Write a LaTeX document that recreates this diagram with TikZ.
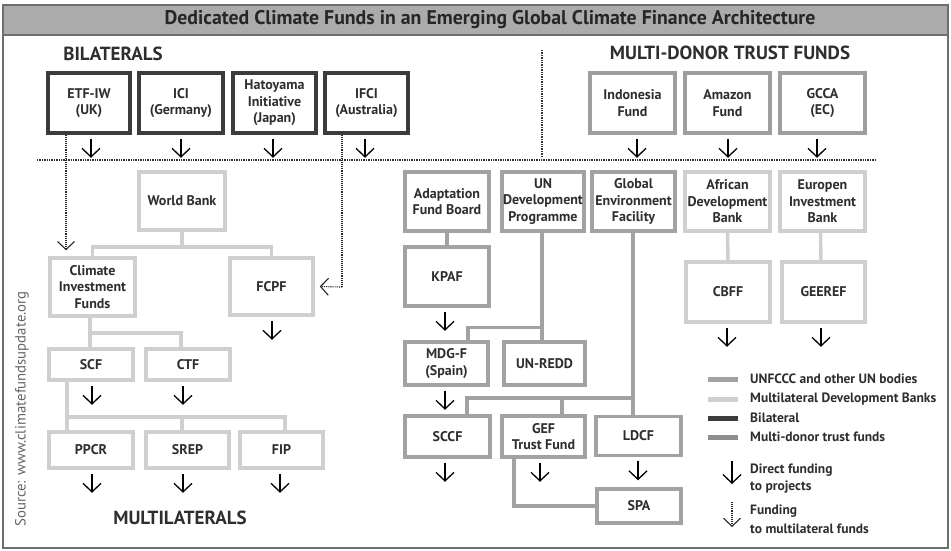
\documentclass[tikz,border=0pt]{standalone}
\usepackage{fontspec}
\setmainfont{PT Sans}
\usetikzlibrary{arrows.meta,backgrounds}
\definecolor{bilc}{HTML}{3C3C3C}
\definecolor{unc}{HTML}{A2A2A2}
\definecolor{mdbc}{HTML}{CFCFCF}
\definecolor{mdtc}{HTML}{9E9E9E}
\definecolor{txtc}{HTML}{2E2E2E}
\definecolor{framec}{HTML}{6E6E6E}
\definecolor{titlec}{HTML}{ABABAB}
\tikzset{
  boxbase/.style={rectangle, line width=3.5pt, fill=white, align=center, text=txtc,
     font=\fontsize{14}{16.5}\selectfont\bfseries, inner sep=1pt},
  bilbox/.style={boxbase, draw=bilc},
  unbox/.style={boxbase, draw=unc},
  mdbbox/.style={boxbase, draw=mdbc},
  mdtbox/.style={boxbase, draw=mdtc},
  unline/.style={draw=unc, line width=3.5pt},
  mdbline/.style={draw=mdbc, line width=3.5pt},
  proj/.style={draw=black, line width=1.3pt, -{Straight Barb[length=8.5pt,width=18pt,line width=1.3pt]}},
  fundline/.style={draw=black!85, line width=1.1pt, densely dotted},
  fundarrow/.style={fundline, -{Straight Barb[length=8pt,width=17pt,line width=1.1pt]}},
  sepline/.style={draw=black!80, line width=1.4pt, densely dotted},
  heading/.style={font=\fontsize{19}{21}\selectfont\bfseries, text=txtc},
  legtext/.style={anchor=west, font=\fontsize{13.5}{15}\selectfont\bfseries, text=txtc, inner sep=0pt, align=left},
}
\begin{document}
\begin{tikzpicture}[x=1pt,y=-1pt]
\useasboundingbox (0,0) rectangle (951,550);
\begin{pgfonlayer}{background}
\fill[white] (0,0) rectangle (951,550);
\end{pgfonlayer}
% frame and title
\draw[framec, line width=2pt, fill=titlec] (3,5) rectangle (948,35);
\draw[framec, line width=2pt] (3,5) rectangle (948,548);
\node[font=\fontsize{19.8}{22}\selectfont\bfseries, text=black!85] (title) at (490,20) {Dedicated Climate Funds in an Emerging Global Climate Finance Architecture};

% headings
\node[heading] (hbil) at (113,54) {BILATERALS};
\node[heading] (hmdt) at (730,53) {MULTI-DONOR TRUST FUNDS};
\node[heading] (hmul) at (180,518) {MULTILATERALS};
\node[rotate=90, font=\fontsize{14.8}{16}\selectfont, text=black!60] (src) at (22,409) {Source: www.climatefundsupdate.org};

% separators
\coordinate (sepL) at (37,160);
\coordinate (sepR) at (875,160);
\coordinate (vsT) at (542,50);
\coordinate (vsB) at (542,158);
\draw[sepline] (sepL) -- (sepR);
\draw[sepline] (vsT) -- (vsB);

% bilateral boxes
\node[bilbox, minimum width=82pt, minimum height=60pt] (ETF) at (89,103) {ETF-IW\\(UK)};
\node[bilbox, minimum width=84pt, minimum height=60pt] (ICI) at (181,103) {ICI\\(Germany)};
\node[bilbox, minimum width=83pt, minimum height=60pt] (HAT) at (274.5,103) {Hatoyama\\Initiative\\(Japan)};
\node[bilbox, minimum width=83pt, minimum height=60pt] (IFCI) at (366.5,103) {IFCI\\(Australia)};

% multi-donor boxes
\node[mdtbox, minimum width=85pt, minimum height=60pt] (IND) at (632.5,103) {Indonesia\\Fund};
\node[mdtbox, minimum width=85pt, minimum height=60pt] (AMZ) at (727.5,103) {Amazon\\Fund};
\node[mdtbox, minimum width=85pt, minimum height=60pt] (GCCA) at (822.5,103) {GCCA\\(EC)};

% World Bank family
\node[mdbbox, minimum width=86pt, minimum height=58pt] (WB) at (182,201) {World Bank};
\node[mdbbox, minimum width=85pt, minimum height=58pt] (CIF) at (92.5,287) {Climate\\Investment\\Funds};
\node[mdbbox, minimum width=83pt, minimum height=57pt] (FCPF) at (271.5,286.5) {FCPF};
\node[mdbbox, minimum width=84pt, minimum height=31pt] (SCF) at (91,364.5) {SCF};
\node[mdbbox, minimum width=84pt, minimum height=31pt] (CTF) at (188,364.5) {CTF};
\node[mdbbox, minimum width=84pt, minimum height=36pt] (PPCR) at (91,450) {PPCR};
\node[mdbbox, minimum width=83pt, minimum height=36pt] (SREP) at (187.5,450) {SREP};
\node[mdbbox, minimum width=83pt, minimum height=36pt] (FIP) at (281.5,450) {FIP};

% UN family
\node[unbox, minimum width=84pt, minimum height=59pt] (AFB) at (447,201.5) {Adaptation\\Fund Board};
\node[unbox, minimum width=82pt, minimum height=59pt] (UNDP) at (543,201.5) {UN\\Development\\Programme};
\node[unbox, minimum width=83pt, minimum height=59pt] (GEF) at (633.5,201.5) {Global\\Environment\\Facility};
\node[unbox, minimum width=84pt, minimum height=59pt] (KPAF) at (447,276.5) {KPAF};
\node[unbox, minimum width=83pt, minimum height=43pt] (MDGF) at (446.5,363.5) {MDG-F\\(Spain)};
\node[unbox, minimum width=81pt, minimum height=43pt] (UNREDD) at (544.5,363.5) {UN-REDD};
\node[unbox, minimum width=85pt, minimum height=41pt] (SCCF) at (447.5,436.5) {SCCF};
\node[unbox, minimum width=83pt, minimum height=41pt] (GEFTF) at (543.5,436.5) {GEF\\Trust Fund};
\node[unbox, minimum width=85pt, minimum height=39pt] (LDCF) at (638.5,436) {LDCF};
\node[unbox, minimum width=84pt, minimum height=34pt] (SPA) at (639,506) {SPA};

% regional banks
\node[mdbbox, minimum width=85pt, minimum height=59pt] (ADB) at (727.5,201.5) {African\\Development\\Bank};
\node[mdbbox, minimum width=85pt, minimum height=59pt] (EIB) at (822.5,201.5) {Europen\\Investment\\Bank};
\node[mdbbox, minimum width=84pt, minimum height=60pt] (CBFF) at (728,292) {CBFF};
\node[mdbbox, minimum width=83pt, minimum height=60pt] (GEEREF) at (823.5,292) {GEEREF};

% connectors behind boxes
\begin{pgfonlayer}{background}
\draw[mdbline] (WB.south) -- ++(0,15) -| (CIF.north);
\draw[mdbline] (WB.south) ++(0,15) -| (FCPF.north);
\draw[mdbline] ([xshift=-2.5pt]CIF.south) -- ([xshift=-1pt]SCF.north);
\draw[mdbline] ([xshift=-2.5pt]CIF.south) ++(0,15) -| ([xshift=-7pt]CTF.north);
\draw[mdbline] ([xshift=-24pt]SCF.south) -- ([xshift=-24pt]PPCR.north);
\draw[mdbline] ([xshift=-24pt]SCF.south) ++(0,35) -| ([xshift=-5.5pt]SREP.north);
\draw[mdbline] ([xshift=-24pt]SCF.south) ++(0,35) -| ([xshift=3.5pt]FIP.north);
\draw[mdbline] (ADB.south) -- (CBFF.north);
\draw[mdbline] ([xshift=-2pt]EIB.south) -- ([xshift=-2.5pt]GEEREF.north);

\draw[unline] (AFB.south) -- (KPAF.north);
\draw[unline] ([xshift=-1pt]UNDP.south) |- ([xshift=21.5pt,yshift=13pt]MDGF.north) -- ([xshift=21.5pt]MDGF.north);
\draw[unline] ([xshift=-1pt]UNDP.south) -- ([xshift=-2.5pt]UNREDD.north);
\draw[unline] ([xshift=-0.5pt]GEF.south) -- ([xshift=-5.5pt]LDCF.north);
\draw[unline] ([xshift=-0.5pt]GEF.south) ++(0,165) -| ([xshift=19.5pt]SCCF.north);
\draw[unline] ([xshift=-0.5pt]GEF.south) ++(0,165) -| ([xshift=18.5pt]GEFTF.north);
\draw[unline] ([xshift=-29.5pt]GEFTF.south) |- (SPA.west);
\end{pgfonlayer}

% project arrows
\foreach \n/\dx in {ETF/2,ICI/0,HAT/-1.5,IFCI/-1.5,IND/4.5,AMZ/0.5,GCCA/-5.5}
  {\draw[proj] ([xshift=\dx pt, yshift=-4pt]\n.south) -- ++(0,19);}
\foreach \n/\dx in {FCPF/0.5,SCF/1,CTF/-5,PPCR/1,SREP/-4.5,FIP/-1.5,KPAF/-2,MDGF/-1.5,SCCF/-2.5,GEFTF/-3.5,LDCF/-0.5,CBFF/-1,GEEREF/-2.5}
  {\draw[proj] ([xshift=\dx pt, yshift=-4pt]\n.south) -- ++(0,19);}

% funding to multilateral funds
\draw[fundarrow] ([xshift=-23pt]ETF.south) -- ([xshift=-26.5pt, yshift=6pt]CIF.north);
\coordinate (ifciturn) at (342,287);
\draw[fundline] ([xshift=-24.5pt]IFCI.south) -- (ifciturn);
\draw[fundarrow] (ifciturn) -- ([xshift=5pt]FCPF.east);

% legend
\coordinate (lg1a) at (708,379); \coordinate (lg1b) at (738,379);
\coordinate (lg2a) at (708,399); \coordinate (lg2b) at (738,399);
\coordinate (lg3a) at (708,418); \coordinate (lg3b) at (738,418);
\coordinate (lg4a) at (708,437); \coordinate (lg4b) at (738,437);
\draw[unc, line width=5pt] (lg1a) -- (lg1b);
\draw[mdbc, line width=5pt] (lg2a) -- (lg2b);
\draw[bilc, line width=5pt] (lg3a) -- (lg3b);
\draw[mdtc!90!black, line width=5pt] (lg4a) -- (lg4b);
\node[legtext] (l1) at (750,379) {UNFCCC and other UN bodies};
\node[legtext] (l2) at (750,399) {Multilateral Development Banks};
\node[legtext] (l3) at (750,418) {Bilateral};
\node[legtext] (l4) at (750,437) {Multi-donor trust funds};
\coordinate (la1) at (732,461); \coordinate (la2) at (732,484);
\coordinate (lb1) at (732,502); \coordinate (lb2) at (732,527);
\draw[proj] (la1) -- (la2);
\draw[fundarrow] (lb1) -- (lb2);
\node[legtext] (l5) at (750,470) {Direct funding};
\node[legtext] (l6) at (750,487) {to projects};
\node[legtext] (l7) at (750,511) {Funding};
\node[legtext] (l8) at (750,529) {to multilateral funds};
\end{tikzpicture}
\end{document}
